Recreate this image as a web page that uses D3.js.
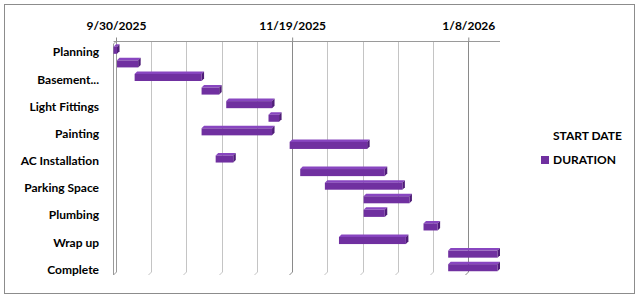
<!DOCTYPE html>
<html>
<head>
<meta charset="utf-8">
<script src="https://cdn.jsdelivr.net/npm/d3@7"></script>
<style>
  html, body { margin: 0; padding: 0; background: #fff; }
  svg { display: block; font-family: Lato, "Liberation Sans", sans-serif; }
</style>
</head>
<body>
<div id="chart"></div>
<script>
// Project tasks (only every other name is shown on the axis)
const categories = ["Planning", "Site Preparation", "Basement...", "Framing", "Light Fittings",
  "Electrical", "Painting", "Roofing", "AC Installation", "Flooring", "Parking Space",
  "Landscaping", "Plumbing", "Inspection", "Wrap up", "Cleanup", "Complete"];
const startDates = ["2025-09-30", "2025-10-01", "2025-10-06", "2025-10-25", "2025-11-01",
  "2025-11-13", "2025-10-25", "2025-11-19", "2025-10-29", "2025-11-22", "2025-11-29",
  "2025-12-10", "2025-12-10", "2025-12-27", "2025-12-03", "2026-01-03", "2026-01-03"];
const durations = [1, 6, 19, 5, 13, 3, 20, 22, 5, 24, 22, 13, 6, 4, 19, 14, 14];
const tickLabels = ["9/30/2025", "11/19/2025", "1/8/2026"];
const axisMin = "2025-09-30";
const axisMax = "2026-01-17";
const seriesNames = ["START DATE", "DURATION"];

const width = 639;
const height = 298;
const depth = 2.5; // 3d offset of the front plane

const parseIso = d3.utcParse("%Y-%m-%d");
const parseTick = d3.utcParse("%m/%d/%Y");

const tasks = categories.map((name, i) => {
  const start = parseIso(startDates[i]);
  return { name: name, start: start, end: d3.utcDay.offset(start, durations[i]) };
});

const x = d3.scaleUtc()
  .domain([parseIso(axisMin), parseIso(axisMax)])
  .range([116, 500]);

const y = d3.scaleBand()
  .domain(categories)
  .range([41, 272])
  .paddingInner(0.48)
  .paddingOuter(0.24);

const svg = d3.create("svg")
  .attr("width", width)
  .attr("height", height)
  .attr("viewBox", [0, 0, width, height]);

// chart border
svg.append("rect")
  .attr("x", 4.5).attr("y", 4.5)
  .attr("width", 630).attr("height", 289)
  .attr("fill", "#fff")
  .attr("stroke", "#8c8c8c");

// gridlines, every 10 days, darker at the labelled dates
const majorTicks = tickLabels.map(parseTick);
const gridDays = d3.range(10, 101, 10).map(k => d3.utcDay.offset(x.domain()[0], k));
const isMajor = d => majorTicks.some(t => +t === +d);

const grid = svg.append("g").attr("fill", "none");
grid.selectAll("path")
  .data(gridDays)
  .join("path")
  .attr("stroke", d => isMajor(d) ? "#8a8a8a" : "#c4c4c4")
  .attr("d", d => {
    const gx = Math.round(x(d)) + 0.5;
    return `M${gx},41V272L${gx - depth - 0.5},${272 + depth + 0.5}`;
  });

// left wall
const wx = Math.round(x.domain().map(x)[0]) + 0.5;
svg.append("path")
  .attr("fill", "#fff")
  .attr("stroke", "#9a9a9a")
  .attr("d", `M${wx},41V272L${wx - 3},275V44Z`);

// top date axis
const gx = svg.append("g")
  .attr("transform", "translate(0,41.5)")
  .call(d3.axisTop(x)
    .tickValues(majorTicks)
    .tickSize(4)
    .tickFormat((d, i) => tickLabels[i]));
gx.select(".domain").attr("stroke", "#9a9a9a").attr("d", `M${wx - 3},0H500`);
gx.selectAll(".tick line").attr("stroke", "#8a8a8a");
gx.selectAll(".tick text")
  .attr("y", -11.5)
  .attr("fill", "#000")
  .attr("font-size", 12)
  .attr("font-weight", "bold")
  .attr("font-family", "Lato, sans-serif");

// category labels, every other one
svg.append("g")
  .selectAll("text")
  .data(categories.filter((d, i) => i % 2 === 0))
  .join("text")
  .attr("x", 99)
  .attr("y", d => y(d) + y.bandwidth() / 2 + depth + 3)
  .attr("text-anchor", "end")
  .attr("dominant-baseline", "middle")
  .attr("font-size", 12)
  .attr("font-weight", "bold")
  .text(d => d);

// 3d bars for the duration series
const bars = svg.append("g")
  .selectAll("g")
  .data(tasks)
  .join("g");

const bx0 = d => x(d.start) - depth;
const bx1 = d => x(d.end) - depth;
const by0 = d => y(d.name) + depth;
const bh = y.bandwidth();

bars.append("path")
  .attr("fill", "#8846c0")
  .attr("d", d => `M${bx0(d)},${by0(d)}l${depth},${-depth}H${bx1(d) + depth}l${-depth},${depth}Z`);
bars.append("path")
  .attr("fill", "#4f1d78")
  .attr("d", d => `M${bx1(d)},${by0(d)}l${depth},${-depth}v${bh}l${-depth},${depth}Z`);
bars.append("rect")
  .attr("fill", "#7030a0")
  .attr("x", bx0)
  .attr("y", by0)
  .attr("width", d => bx1(d) - bx0(d))
  .attr("height", bh);

// legend
const legend = svg.append("g").attr("font-size", 12).attr("font-weight", "bold");
legend.append("text")
  .attr("x", 553).attr("y", 137)
  .attr("dominant-baseline", "middle")
  .text(seriesNames[0]);
legend.append("rect")
  .attr("x", 541).attr("y", 156)
  .attr("width", 8).attr("height", 8)
  .attr("fill", "#7030a0");
legend.append("text")
  .attr("x", 553).attr("y", 160.5)
  .attr("dominant-baseline", "middle")
  .text(seriesNames[1]);

document.getElementById("chart").appendChild(svg.node());
</script>
</body>
</html>
